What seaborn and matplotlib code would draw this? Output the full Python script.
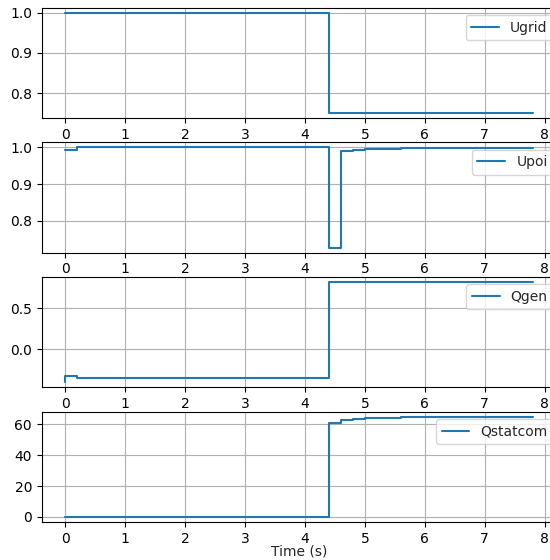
import matplotlib
matplotlib.use("Agg")
import matplotlib.pyplot as plt
import seaborn as sns
import pandas as pd

# Step breakpoints (time in s) and held values for each signal
t_ugrid = [0.0, 4.4, 7.8]
ugrid = [1.0, 0.75, 0.75]

t_upoi = [0.0, 0.2, 4.4, 4.6, 4.8, 5.0, 5.6, 7.8]
upoi = [0.994, 1.0, 0.726, 0.991, 0.993, 0.996, 0.999, 0.999]

t_qgen = [0.0, 0.0, 0.2, 4.4, 7.8]
qgen = [-0.402, -0.33, -0.355, 0.817, 0.817]

t_qstatcom = [0.0, 4.4, 4.6, 4.8, 5.0, 5.6, 7.8]
qstatcom = [0.0, 61.0, 62.5, 63.7, 64.4, 65.0, 65.0]

names = ["Ugrid", "Upoi", "Qgen", "Qstatcom"]
yticks = [[0.8, 0.9, 1.0], [0.8, 0.9, 1.0], [0.0, 0.5], [0, 20, 40, 60]]
xticks = [0, 1, 2, 3, 4, 5, 6, 7, 8]

series = [(t_ugrid, ugrid), (t_upoi, upoi), (t_qgen, qgen), (t_qstatcom, qstatcom)]

sns.set_style("ticks", {
    "axes.grid": True,
    "grid.color": "#b0b0b0",
    "axes.edgecolor": "black",
    "xtick.color": "black",
    "ytick.color": "black",
})
plt.rcParams["font.family"] = ["DejaVu Sans"]
plt.rcParams["font.size"] = 10

fig, axes = plt.subplots(4, 1, figsize=(5.5, 5.6), dpi=100)
fig.subplots_adjust(left=0.076, right=1.011, top=0.986, bottom=0.068, hspace=0.22)

for ax, name, (t, v), yt in zip(axes, names, series, yticks):
    df = pd.DataFrame({"t": t, "v": v})
    sns.lineplot(data=df, x="t", y="v", ax=ax, estimator=None, sort=False,
                 drawstyle="steps-post", color="#1f77b4", linewidth=1.5, label=name)
    ax.set_xticks(xticks)
    ax.set_yticks(yt)
    ax.set_xlabel("")
    ax.set_ylabel("")
    ax.grid(True, color="#b0b0b0", linewidth=0.8)
    ax.tick_params(direction="out", length=3.5, width=0.8, labelsize=10)
    for s in ax.spines.values():
        s.set_linewidth(0.8)
    ax.legend(loc="upper right", bbox_to_anchor=(1.008, 0.997), fontsize=10)

axes[-1].set_xlabel("Time (s)", fontsize=10, labelpad=-1)

fig.savefig("out.png", dpi=100)
